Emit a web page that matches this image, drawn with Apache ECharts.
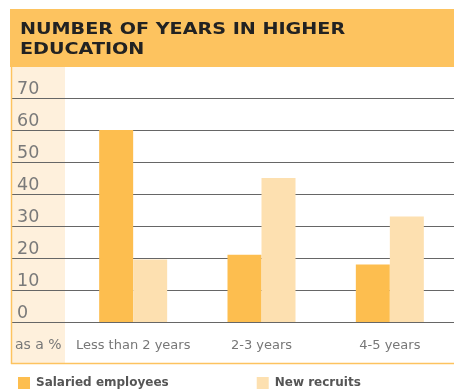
<!DOCTYPE html>
<html><head><meta charset="utf-8">
<script src="https://cdn.jsdelivr.net/npm/echarts@6/dist/echarts.min.js"></script>
<style>html,body{margin:0;padding:0;background:#fff}#c{width:454px;height:391px}</style>
</head><body><div id="c"></div>
<script>
const categories = ['Less than 2 years', '2-3 years', '4-5 years'];
const salaried = [60, 21, 18];
const recruits = [19.5, 45, 33];
const seriesNames = ['Salaried employees', 'New recruits'];
const titleText = 'NUMBER OF YEARS IN HIGHER\nEDUCATION';
const unitText = 'as a %';

const chart = echarts.init(document.getElementById('c'), null, {renderer: 'canvas'});
const gridTop = 66, gridBottom = 69;
chart.setOption({
  animation: false,
  graphic: [
    {type: 'rect', z: -10, shape: {x: 11, y: 66, width: 54, height: 297}, style: {fill: '#FEF0DC'}},
    {type: 'rect', z: 100, shape: {x: 10, y: 9, width: 444, height: 58}, style: {fill: '#FDC35F'}},
    {type: 'text', z: 101, x: 20, y: 19.5, scaleX: 1.235, style: {x: 0, y: 0, text: titleText, font: 'bold 15.5px "DejaVu Sans"', fill: '#222', lineHeight: 20}},
    {type: 'line', z: 50, shape: {x1: 11.5, y1: 66, x2: 11.5, y2: 364}, style: {stroke: '#FDC35F', lineWidth: 1.5}},
    {type: 'line', z: 50, shape: {x1: 11, y1: 363.5, x2: 454, y2: 363.5}, style: {stroke: '#FDC35F', lineWidth: 1.5}},
    {type: 'text', left: 15, top: 338, style: {text: unitText, font: '14px "DejaVu Sans"', fill: '#777'}}
  ],
  legend: {
    top: 377, left: 18, padding: 0, itemWidth: 12, itemHeight: 12, itemGap: 88, icon: 'rect',
    textStyle: {fontFamily: 'DejaVu Sans', fontWeight: 'bold', fontSize: 12, color: '#555', padding: [0, 0, 0, 1]},
    data: seriesNames
  },
  grid: [
    {left: 11, right: 0, top: gridTop, bottom: gridBottom},
    {left: 69, right: 0, top: gridTop, bottom: gridBottom}
  ],
  xAxis: [
    {gridIndex: 0, type: 'value', show: false, min: 0, max: 1},
    {gridIndex: 1, type: 'category', data: categories,
     axisLine: {show: true, lineStyle: {color: '#666'}}, axisTick: {show: false},
     axisLabel: {interval: 0, fontFamily: 'DejaVu Sans', fontSize: 13, color: '#777', margin: 17}}
  ],
  yAxis: [
    {gridIndex: 0, type: 'value', min: 0, max: 80, interval: 10,
     axisLine: {show: false}, axisTick: {show: false},
     splitLine: {show: true, lineStyle: {color: '#666', width: 1}},
     axisLabel: {inside: true, margin: 6, verticalAlign: 'bottom', fontFamily: 'DejaVu Sans', fontSize: 17.5, color: '#7a7a7a', showMaxLabel: false,
       formatter: v => v === 80 ? '' : String(v)}},
    {gridIndex: 1, type: 'value', min: 0, max: 80, interval: 10, show: false, splitLine: {show: false}}
  ],
  series: [
    {name: seriesNames[0], type: 'bar', xAxisIndex: 1, yAxisIndex: 1, data: salaried, barWidth: 34, barGap: '0%', itemStyle: {color: '#FDBE4F'}},
    {name: seriesNames[1], type: 'bar', xAxisIndex: 1, yAxisIndex: 1, data: recruits, barWidth: 34, barGap: '0%', itemStyle: {color: '#FDE0B0'}}
  ]
});
</script></body></html>
